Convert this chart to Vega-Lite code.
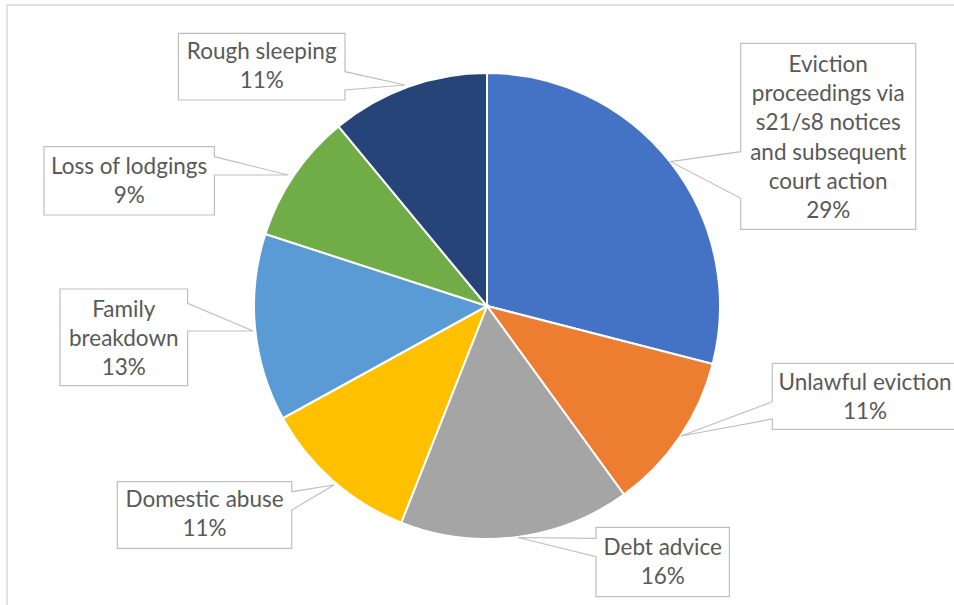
{
  "$schema": "https://vega.github.io/schema/vega-lite/v6.json",
  "width": 960,
  "height": 602,
  "padding": {"left": 7, "top": 5, "right": -13, "bottom": -2},
  "autosize": {"type": "none"},
  "background": "white",
  "config": {"view": {"stroke": "#d9d9d9", "strokeWidth": 1.5}},
  "data": {
    "values": [
      {"ord": 1, "cause": "Eviction proceedings via s21/s8 notices and subsequent court action", "pct": 29, "label": "Eviction\nproceedings via\ns21/s8 notices\nand subsequent\ncourt action\n29%"},
      {"ord": 2, "cause": "Unlawful eviction", "pct": 11, "label": "Unlawful eviction\n11%"},
      {"ord": 3, "cause": "Debt advice", "pct": 16, "label": "Debt advice\n16%"},
      {"ord": 4, "cause": "Domestic abuse", "pct": 11, "label": "Domestic abuse\n11%"},
      {"ord": 5, "cause": "Family breakdown", "pct": 13, "label": "Family\nbreakdown\n13%"},
      {"ord": 6, "cause": "Loss of lodgings", "pct": 9, "label": "Loss of lodgings\n9%"},
      {"ord": 7, "cause": "Rough sleeping", "pct": 11, "label": "Rough sleeping\n11%"}
    ]
  },
  "resolve": {"scale": {"y": "independent"}},
  "layer": [
    {
      "mark": {"type": "arc", "radius": 233, "stroke": "white", "strokeWidth": 2},
      "encoding": {
        "theta": {"field": "pct", "type": "quantitative", "stack": true},
        "order": {"field": "ord", "type": "quantitative"},
        "color": {
          "field": "cause", "type": "nominal", "legend": null,
          "scale": {
            "domain": ["Eviction proceedings via s21/s8 notices and subsequent court action", "Unlawful eviction", "Debt advice", "Domestic abuse", "Family breakdown", "Loss of lodgings", "Rough sleeping"],
            "range": ["#4472C4", "#ED7D31", "#A5A5A5", "#FFC000", "#5B9BD5", "#70AD47", "#264478"]
          }
        }
      }
    },
    {
      "mark": {"type": "point", "filled": true, "fill": "white", "fillOpacity": 1, "opacity": 1, "stroke": "#bfbfbf", "strokeWidth": 1.2, "size": 4},
      "encoding": {
        "x": {"field": "ord", "type": "quantitative", "axis": null, "scale": {"type": "linear", "zero": false, "nice": false, "domain": [1, 2, 3, 4, 5, 6, 7], "range": [821.2, 858, 655.7, 197.5, 116.8, 122.2, 254.7]}},
        "y": {"field": "ord", "type": "quantitative", "axis": null, "scale": {"type": "linear", "zero": false, "nice": false, "domain": [1, 2, 3, 4, 5, 6, 7], "range": [131.3, 391.3, 557, 510, 332.3, 175.8, 61.7]}},
        "shape": {
          "field": "cause", "type": "nominal", "legend": null,
          "scale": {
            "domain": ["Eviction proceedings via s21/s8 notices and subsequent court action", "Unlawful eviction", "Debt advice", "Domestic abuse", "Family breakdown", "Loss of lodgings", "Rough sleeping"],
            "range": [
              "M-87.5,-93H87.5V93H-87.5V62L-157.5,25.4L-87.5,15.4Z",
              "M-92.7,-33H92.7V33H-92.7V22.7L-184,39.7L-92.7,5.4Z",
              "M-66.7,-34.7H66.7V34.7H-66.7V-5.3L-144.7,-24.5L-66.7,-23.7Z",
              "M-87.2,-33.3H87.2V-23.3L129.5,-30L87.2,-5V33.3H-87.2Z",
              "M-63.8,-48.3H63.8V-34L129.5,-6.3L63.8,-6.3V48.3H-63.8Z",
              "M-85.2,-34.2H85.2V-24.1L159.1,-5.8L85.2,-5.8V34.2H-85.2Z",
              "M-83.3,-33.3H83.3V5L143.3,18.3L83.3,23.3V33.3H-83.3Z"
            ]
          }
        }
      }
    },
    {
      "mark": {"type": "text", "font": "Lato", "fontSize": 22.5, "color": "#595959", "lineHeight": 29.2, "lineBreak": "\n", "align": "center", "baseline": "middle"},
      "encoding": {
        "x": {"field": "ord", "type": "quantitative", "axis": null, "scale": {"type": "linear", "zero": false, "nice": false, "domain": [1, 2, 3, 4, 5, 6, 7], "range": [821.2, 858, 655.7, 197.5, 116.8, 122.2, 254.7]}},
        "y": {"field": "ord", "type": "quantitative", "axis": null, "scale": {"type": "linear", "zero": false, "nice": false, "domain": [1, 2, 3, 4, 5, 6, 7], "range": [60, 378.3, 543.3, 495, 305, 162.3, 46.7]}},
        "text": {"field": "label", "type": "nominal"}
      }
    }
  ]
}
